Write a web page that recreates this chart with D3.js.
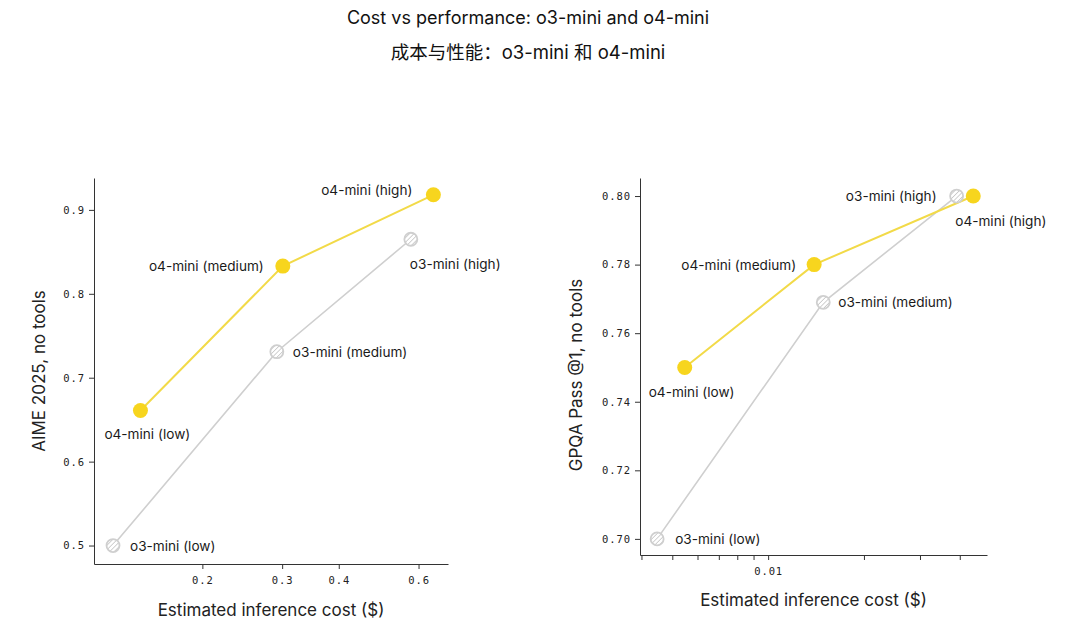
<!DOCTYPE html>
<html>
<head>
<meta charset="utf-8">
<script src="https://cdn.jsdelivr.net/npm/d3@7/dist/d3.min.js"></script>
<style>
  html, body { margin: 0; padding: 0; background: #ffffff; }
  svg { display: block; }
  .tick text { font-family: "DejaVu Sans Mono", monospace; font-size: 10.5px; letter-spacing: 0.9px; fill: #222; }
  .tick line, .domain { stroke: #333; }
</style>
</head>
<body>
<svg id="chart" width="1080" height="637"></svg>
<script>
// ---------- data ----------
const titleLines = ["Cost vs performance: o3-mini and o4-mini", "成本与性能：o3-mini 和 o4-mini"];
const efforts = ["low", "medium", "high"];
const models = ["o3-mini", "o4-mini"];

// AIME 2025 panel
const aimeCostO3 = [0.127, 0.292, 0.577];
const aimeScoreO3 = [0.500, 0.731, 0.865];
const aimeCostO4 = [0.146, 0.301, 0.647];
const aimeScoreO4 = [0.661, 0.833, 0.918];
const aimeXTicks = [0.2, 0.3, 0.4, 0.6];
const aimeYTicks = [0.5, 0.6, 0.7, 0.8, 0.9];

// GPQA panel
const gpqaCostO3 = [0.00448, 0.0149, 0.0391];
const gpqaScoreO3 = [0.700, 0.769, 0.800];
const gpqaCostO4 = [0.00547, 0.01395, 0.0441];
const gpqaScoreO4 = [0.750, 0.780, 0.800];
const gpqaXTicks = [0.004, 0.005, 0.006, 0.007, 0.008, 0.009, 0.01, 0.02, 0.03, 0.04];
const gpqaXLabeled = [0.01];
const gpqaYTicks = [0.70, 0.72, 0.74, 0.76, 0.78, 0.80];

// ---------- layout / style ----------
const YELLOW = "#F7D51E", YELLOW_LINE = "#F2DA48", GRAY = "#cfcfcf";
// label placement per point: [dx, dy, anchor]
const aimeLabelO3 = [[17, 0, "start"], [16, 0, "start"], [-1, 25, "start"]];
const aimeLabelO4 = [[-36, 24, "start"], [-19, 0, "end"], [-21, -5, "end"]];
const gpqaLabelO3 = [[18, 0, "start"], [15, 0, "start"], [-20, 0, "end"]];
const gpqaLabelO4 = [[-36, 25, "start"], [-18, 0, "end"], [-18, 25, "start"]];

const svg = d3.select("#chart");
svg.append("rect").attr("width", 1080).attr("height", 637).attr("fill", "#fff");

// hatch pattern
const defs = svg.append("defs");
const pat = defs.append("pattern").attr("id", "hatch").attr("patternUnits", "userSpaceOnUse")
  .attr("width", 3.2).attr("height", 3.2).attr("patternTransform", "rotate(45)");
pat.append("rect").attr("width", 3.2).attr("height", 3.2).attr("fill", "#fff");
pat.append("line").attr("x1", 0).attr("y1", 0).attr("x2", 0).attr("y2", 3.2)
  .attr("stroke", "#c4c4c4").attr("stroke-width", 1.5);

// title
svg.selectAll("text.title").data(titleLines).join("text")
  .attr("class", "title")
  .attr("x", 528).attr("y", (d, i) => i === 0 ? 17 : 52)
  .attr("text-anchor", "middle").attr("dominant-baseline", "central")
  .attr("font-family", "Inter, 'Noto Sans CJK SC', sans-serif")
  .attr("font-size", (d, i) => i === 0 ? 18 : 18.5)
  .attr("fill", "#111")
  .text(d => d);

function panel(cfg) {
  const g = svg.append("g");
  const x = d3.scaleLog().domain(cfg.xDomain).range([cfg.left, cfg.right]);
  const y = d3.scaleLinear().domain(cfg.yDomain).range([cfg.bottom, cfg.top]);

  const xAxis = d3.axisBottom(x).tickValues(cfg.xTicks).tickSize(5).tickSizeOuter(0).tickPadding(8)
    .tickFormat(d => cfg.xLabeled.some(v => Math.abs(v - d) < 1e-9) ? cfg.xFmt(d) : "");
  g.append("g").attr("transform", `translate(0,${cfg.bottom})`).call(xAxis);

  const yAxis = d3.axisLeft(y).tickValues(cfg.yTicks).tickSize(5).tickSizeOuter(0).tickPadding(4)
    .tickFormat(cfg.yFmt);
  g.append("g").attr("transform", `translate(${cfg.left},0)`).call(yAxis);

  // axis titles
  g.append("text").attr("x", (cfg.left + cfg.right) / 2).attr("y", cfg.bottom + cfg.xTitleOffset)
    .attr("text-anchor", "middle").attr("dominant-baseline", "central")
    .attr("font-family", "Inter, sans-serif").attr("font-size", 17).attr("fill", "#222")
    .text("Estimated inference cost ($)");
  g.append("text")
    .attr("transform", `translate(${cfg.yTitleX},${cfg.yTitleY}) rotate(-90)`)
    .attr("text-anchor", "middle").attr("dominant-baseline", "central")
    .attr("font-family", "Inter, sans-serif").attr("font-size", 17).attr("fill", "#222")
    .text(cfg.yTitle);

  const line = d3.line().x(d => x(d[0])).y(d => y(d[1]));
  const o3 = cfg.costO3.map((c, i) => [c, cfg.scoreO3[i], cfg.labelO3[i], `${models[0]} (${efforts[i]})`]);
  const o4 = cfg.costO4.map((c, i) => [c, cfg.scoreO4[i], cfg.labelO4[i], `${models[1]} (${efforts[i]})`]);

  g.append("path").datum(o3).attr("d", line).attr("fill", "none").attr("stroke", GRAY).attr("stroke-width", 1.6);
  g.append("path").datum(o4).attr("d", line).attr("fill", "none").attr("stroke", YELLOW_LINE).attr("stroke-width", 2);

  g.selectAll("circle.o3").data(o3).join("circle").attr("class", "o3")
    .attr("cx", d => x(d[0])).attr("cy", d => y(d[1])).attr("r", 6.5)
    .attr("fill", "url(#hatch)").attr("stroke", GRAY).attr("stroke-width", 1.8);
  g.selectAll("circle.o4").data(o4).join("circle").attr("class", "o4")
    .attr("cx", d => x(d[0])).attr("cy", d => y(d[1])).attr("r", 7.5)
    .attr("fill", YELLOW);

  g.selectAll("text.lbl").data(o3.concat(o4)).join("text").attr("class", "lbl")
    .attr("x", d => x(d[0]) + d[2][0]).attr("y", d => y(d[1]) + d[2][1])
    .attr("text-anchor", d => d[2][2]).attr("dominant-baseline", "central")
    .attr("font-family", "Inter, sans-serif").attr("font-size", 13.6).attr("fill", "#1a1a1a")
    .text(d => d[3]);
}

panel({
  left: 94, right: 448, top: 178, bottom: 564,
  xDomain: [0.1153, 0.6969], yDomain: [0.478, 0.938],
  xTicks: aimeXTicks, xLabeled: aimeXTicks, xFmt: d3.format(".1f"),
  yTicks: aimeYTicks, yFmt: d3.format(".1f"),
  costO3: aimeCostO3, scoreO3: aimeScoreO3, costO4: aimeCostO4, scoreO4: aimeScoreO4,
  labelO3: aimeLabelO3, labelO4: aimeLabelO4,
  yTitle: "AIME 2025, no tools", yTitleX: 39, yTitleY: 371, xTitleOffset: 46
});

panel({
  left: 640, right: 987, top: 178, bottom: 555,
  xDomain: [0.003958, 0.04871], yDomain: [0.6953, 0.80526],
  xTicks: gpqaXTicks, xLabeled: gpqaXLabeled, xFmt: d3.format(".2f"),
  yTicks: gpqaYTicks, yFmt: d3.format(".2f"),
  costO3: gpqaCostO3, scoreO3: gpqaScoreO3, costO4: gpqaCostO4, scoreO4: gpqaScoreO4,
  labelO3: gpqaLabelO3, labelO4: gpqaLabelO4,
  yTitle: "GPQA Pass @1, no tools", yTitleX: 576, yTitleY: 375, xTitleOffset: 45
});
</script>
</body>
</html>
